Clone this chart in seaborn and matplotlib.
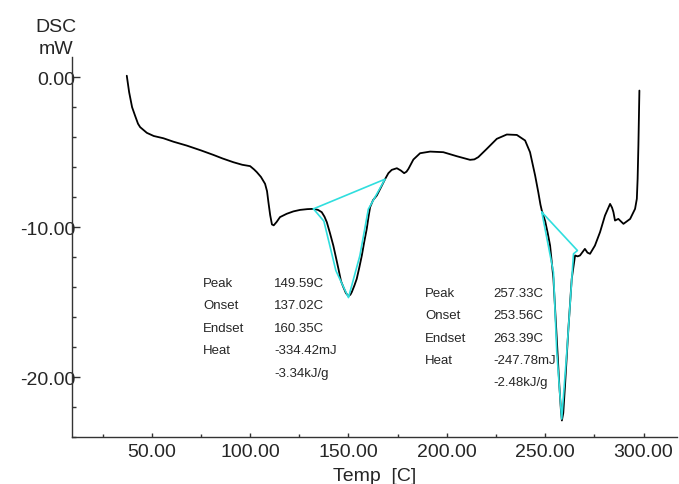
import numpy as np
import pandas as pd
import seaborn as sns
import matplotlib.pyplot as plt
from matplotlib.ticker import MultipleLocator, FormatStrFormatter

# DSC curve (temperature in C, heat flow in mW)
temp = [37.3, 38.5, 40.0, 41.5, 43.0, 44.1, 47.5, 51.0, 55.9, 61.0, 67.8, 75.0, 81.3, 86.0,
        91.5, 96.0, 100.0, 102.0, 103.4, 105.5, 107.6, 108.6, 109.3, 110.2, 111.1, 112.0,
        113.5, 115.2, 118.6, 122.0, 125.4, 129.0, 132.2, 134.5, 136.4, 137.8, 139.0, 140.6,
        142.3, 143.6, 144.9, 146.2, 147.4, 148.7, 150.0, 151.0, 151.7, 153.0, 154.2, 155.5,
        156.8, 158.0, 159.3, 160.2, 161.0, 162.5, 164.4, 166.5, 168.6, 170.3, 172.0, 174.6,
        176.6, 178.3, 179.5, 180.5, 183.0, 186.4, 191.5, 198.2, 205.1, 211.8, 214.0, 216.0,
        220.3, 225.4, 230.5, 235.6, 239.8, 242.3, 244.9, 246.5, 247.6, 248.3, 250.0, 251.3,
        252.5, 254.2, 255.9, 257.2, 258.0, 258.5, 259.2, 260.1, 261.8, 263.5, 265.2, 266.5,
        267.7, 270.2, 271.5, 272.8, 275.3, 277.9, 280.4, 283.0, 284.0, 284.7, 285.5, 287.2,
        289.8, 293.2, 295.7, 296.6, 297.0, 297.4, 297.9]
dsc = [0.1, -1.0, -2.0, -2.56, -3.1, -3.33, -3.71, -3.92, -4.07, -4.3, -4.56, -4.88, -5.18, -5.42,
       -5.67, -5.84, -5.93, -6.15, -6.33, -6.65, -7.11, -7.6, -8.33, -9.2, -9.82, -9.88,
       -9.65, -9.33, -9.11, -8.95, -8.85, -8.8, -8.78, -8.85, -9.0, -9.3, -9.67, -10.4,
       -11.23, -12.0, -12.78, -13.6, -14.0, -14.4, -14.6, -14.5, -14.33, -13.9, -13.45, -12.7,
       -11.89, -11.0, -10.11, -9.3, -8.67, -8.2, -7.89, -7.35, -6.8, -6.4, -6.18, -6.07,
       -6.22, -6.4, -6.3, -6.11, -5.49, -5.07, -4.96, -5.0, -5.27, -5.51, -5.48, -5.33,
       -4.78, -4.11, -3.82, -3.85, -4.22, -5.0, -6.56, -7.67, -8.5, -8.9, -9.6, -10.4,
       -11.23, -13.45, -17.45, -20.56, -22.2, -22.9, -22.4, -20.56, -16.78, -13.45, -11.89, -11.95,
       -11.89, -11.45, -11.7, -11.78, -11.23, -10.33, -9.23, -8.45, -8.7, -9.0, -9.56, -9.45,
       -9.78, -9.45, -8.78, -8.11, -6.78, -4.5, -0.89]

# cyan peak integration outlines (baseline + tangents), closed polygons
peak1_temp = [132.2, 137.5, 143.6, 150.0, 155.8, 160.1, 168.6, 132.2]
peak1_dsc = [-8.78, -9.6, -12.9, -14.7, -11.9, -8.8, -6.8, -8.78]
peak2_temp = [248.3, 254.2, 255.9, 258.4, 261.0, 264.4, 266.4, 248.3]
peak2_dsc = [-9.0, -13.0, -18.33, -22.8, -18.33, -11.78, -11.56, -9.0]

# peak analysis results
names = ['Peak', 'Onset', 'Endset', 'Heat', '']
peak1_values = ['149.59C', '137.02C', '160.35C', '-334.42mJ', '-3.34kJ/g']
peak2_values = ['257.33C', '253.56C', '263.39C', '-247.78mJ', '-2.48kJ/g']

df = pd.DataFrame({'temp': temp, 'dsc': dsc})

sns.set_style('white')
plt.rcParams['font.family'] = ['Liberation Sans', 'DejaVu Sans']

fig = plt.figure(figsize=(6.79, 4.85), dpi=100)
ax = fig.add_axes([0.1056, 0.0969, 0.8914, 0.7829])

# main curve
sns.lineplot(data=df, x='temp', y='dsc', sort=False, estimator=None, color='black',
             linewidth=1.3, ax=ax)

# integration outlines in cyan
sns.lineplot(x=peak1_temp, y=peak1_dsc, sort=False, estimator=None, color='#30dede',
             linewidth=1.2, ax=ax)
sns.lineplot(x=peak2_temp, y=peak2_dsc, sort=False, estimator=None, color='#30dede',
             linewidth=1.2, ax=ax)

# annotation tables
rows1 = [-13.9, -15.4, -16.95, -18.4, -19.9]
rows2 = [-14.6, -16.05, -17.6, -19.05, -20.55]
for i in range(5):
    ax.text(76.2, rows1[i], names[i], fontsize=9.5, va='baseline')
    ax.text(112.3, rows1[i], peak1_values[i], fontsize=9.5, va='baseline')
    ax.text(188.9, rows2[i], names[i], fontsize=9.5, va='baseline')
    ax.text(223.7, rows2[i], peak2_values[i], fontsize=9.5, va='baseline')

ax.set_xlim(9.3, 317)
ax.set_ylim(-24.0, 1.33)

ax.xaxis.set_major_locator(MultipleLocator(50))
ax.xaxis.set_minor_locator(MultipleLocator(25))
ax.yaxis.set_major_locator(MultipleLocator(10))
ax.yaxis.set_minor_locator(MultipleLocator(2))
ax.xaxis.set_major_formatter(FormatStrFormatter('%.2f'))
ax.yaxis.set_major_formatter(FormatStrFormatter('%.2f'))

ax.tick_params(axis='both', which='both', direction='in', color='#333333')
ax.tick_params(axis='y', which='major', length=5.5, width=1, pad=-2.5, labelsize=14)
ax.tick_params(axis='y', which='minor', length=3, width=1)
ax.tick_params(axis='x', which='major', length=3, width=1, pad=4, labelsize=14)
ax.tick_params(axis='x', which='minor', length=2, width=1)
ax.tick_params(left=True, bottom=True, which='both')

sns.despine(ax=ax)
for side in ['left', 'bottom']:
    ax.spines[side].set_color('#333333')
    ax.spines[side].set_linewidth(1.0)

ax.set_xlabel('Temp  [C]', fontsize=14, labelpad=5)
ax.set_ylabel('')

# y axis title stacked above the axis
fig.text(0.0825, 0.9346, 'DSC', fontsize=14, ha='center', va='baseline')
fig.text(0.0825, 0.8887, 'mW', fontsize=14, ha='center', va='baseline')

fig.savefig('out.png', dpi=100)
